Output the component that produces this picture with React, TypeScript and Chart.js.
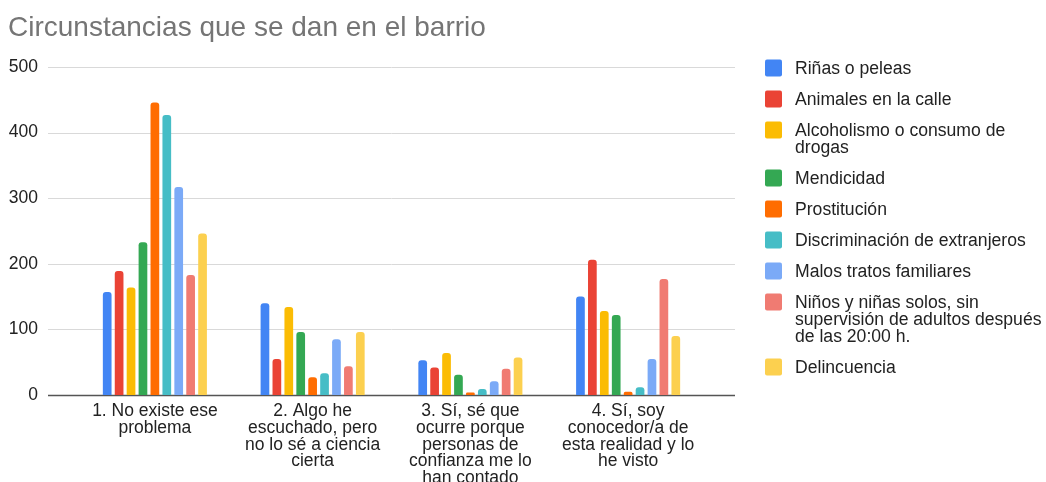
import React, { useEffect, useRef } from "react";
import { Chart, registerables } from "chart.js";

Chart.register(...registerables);

const TITLE = "Circunstancias que se dan en el barrio";

const categories: string[][] = [
  ["1. No existe ese", "problema"],
  ["2. Algo he", "escuchado, pero", "no lo sé a ciencia", "cierta"],
  ["3. Sí, sé que", "ocurre porque", "personas de", "confianza me lo", "han contado"],
  ["4. Sí, soy", "conocedor/a de", "esta realidad y lo", "he visto"],
];

const seriesNames = [
  "Riñas o peleas",
  "Animales en la calle",
  "Alcoholismo o consumo de drogas",
  "Mendicidad",
  "Prostitución",
  "Discriminación de extranjeros",
  "Malos tratos familiares",
  "Niños y niñas solos, sin supervisión de adultos después de las 20:00 h.",
  "Delincuencia",
];

const seriesColors = [
  "#4285F4",
  "#EA4335",
  "#FBBC04",
  "#34A853",
  "#FF6D01",
  "#46BDC6",
  "#7BAAF7",
  "#F07B72",
  "#FCD04F",
];

const rinas = [157, 140, 53, 150];
const animales = [189, 55, 42, 206];
const alcoholismo = [164, 134, 64, 128];
const mendicidad = [233, 96, 31, 122];
const prostitucion = [446, 27, 4, 5];
const discriminacion = [427, 33, 9, 12];
const malosTratos = [317, 85, 21, 55];
const ninos = [183, 44, 40, 177];
const delincuencia = [246, 96, 57, 90];

const seriesValues = [
  rinas,
  animales,
  alcoholismo,
  mendicidad,
  prostitucion,
  discriminacion,
  malosTratos,
  ninos,
  delincuencia,
];

const yTicks = [0, 100, 200, 300, 400, 500];

const FONT = "'Liberation Sans', Arial, Helvetica, sans-serif";

function wrapText(ctx: CanvasRenderingContext2D, text: string, maxWidth: number): string[] {
  const words = text.split(" ");
  const lines: string[] = [];
  let cur = "";
  for (const w of words) {
    const test = cur ? cur + " " + w : w;
    if (ctx.measureText(test).width > maxWidth && cur) {
      lines.push(cur);
      cur = w;
    } else {
      cur = test;
    }
  }
  if (cur) lines.push(cur);
  return lines;
}

const decorPlugin = {
  id: "decor",
  beforeDatasetsDraw(chart: any) {
    const ctx: CanvasRenderingContext2D = chart.ctx;
    const y = chart.scales.y;
    const area = chart.chartArea;
    const ext = 28;
    ctx.save();
    for (const v of yTicks) {
      const py = Math.round(y.getPixelForValue(v)) + 0.5;
      ctx.beginPath();
      ctx.moveTo(area.left - ext, py);
      ctx.lineTo(area.right + ext, py);
      if (v === 0) {
        ctx.strokeStyle = "#555555";
        ctx.lineWidth = 1.5;
      } else {
        ctx.strokeStyle = "#d9d9d9";
        ctx.lineWidth = 1;
      }
      ctx.stroke();
    }
    ctx.restore();
  },
  afterDraw(chart: any) {
    const ctx: CanvasRenderingContext2D = chart.ctx;
    ctx.save();
    // Title
    ctx.font = `28px ${FONT}`;
    ctx.fillStyle = "#757575";
    ctx.textAlign = "left";
    ctx.textBaseline = "alphabetic";
    ctx.fillText(TITLE, 8, 36);

    // Legend
    ctx.font = `17.6px ${FONT}`;
    ctx.textBaseline = "middle";
    const boxX = 765;
    const textX = 795;
    const lineH = 17;
    const gap = 14;
    let yy = 68;
    chart.data.datasets.forEach((ds: any) => {
      const lines = wrapText(ctx, ds.label, 252);
      ctx.fillStyle = ds.backgroundColor;
      ctx.beginPath();
      (ctx as any).roundRect(boxX, yy - 8.5, 17, 17, 2);
      ctx.fill();
      ctx.fillStyle = "#222222";
      lines.forEach((ln, i) => ctx.fillText(ln, textX, yy + i * lineH + 1));
      yy += lines.length * lineH + gap;
    });
    ctx.restore();
  },
};

export default function App() {
  const ref = useRef<HTMLCanvasElement | null>(null);

  useEffect(() => {
    if (!ref.current) return;
    const chart = new Chart(ref.current, {
      type: "bar",
      data: {
        labels: categories,
        datasets: seriesNames.map((name, i) => ({
          label: name,
          data: seriesValues[i],
          backgroundColor: seriesColors[i],
          borderRadius: { topLeft: 3, topRight: 3, bottomLeft: 0, bottomRight: 0 },
          borderSkipped: "bottom",
          categoryPercentage: 0.68,
          barPercentage: 0.73,
        })),
      },
      options: {
        animation: false,
        responsive: false,
        layout: { padding: { top: 67, right: 339, left: 0, bottom: 0 } },
        plugins: {
          legend: { display: false },
          title: { display: false },
          tooltip: { enabled: false },
        },
        scales: {
          x: {
            grid: { display: false, drawTicks: false },
            border: { display: false },
            ticks: {
              autoSkip: false,
              maxRotation: 0,
              minRotation: 0,
              padding: 8,
              color: "#222222",
              font: { family: FONT, size: 17.5, lineHeight: "16.7px" },
            },
            afterFit: (scale: any) => {
              scale.height = 87;
            },
          },
          y: {
            min: 0,
            max: 500,
            grid: { display: false, drawTicks: false },
            border: { display: false },
            ticks: {
              stepSize: 100,
              padding: 38,
              color: "#222222",
              font: { family: FONT, size: 17.5 },
            },
            afterFit: (scale: any) => {
              scale.width = 76;
            },
          },
        },
      },
      plugins: [decorPlugin],
    });
    return () => chart.destroy();
  }, []);

  return (
    <div style={{ position: "fixed", left: 0, top: 0, width: 1046, height: 482, background: "#ffffff" }}>
      <canvas ref={ref} width={1046} height={482} style={{ display: "block" }} />
    </div>
  );
}
